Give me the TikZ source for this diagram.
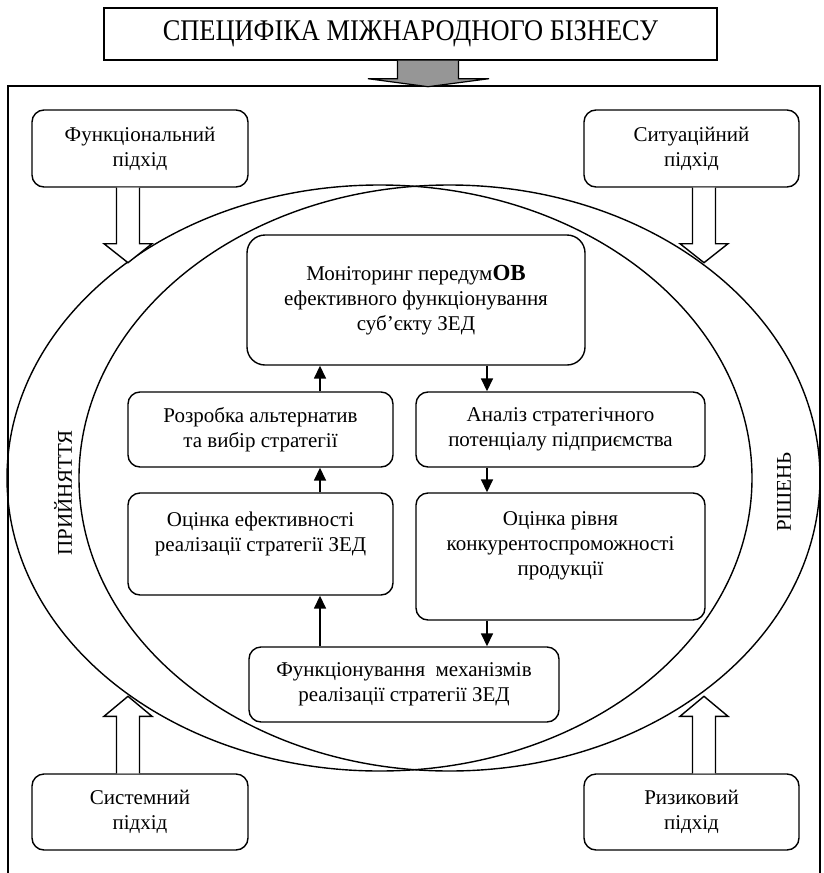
\documentclass[tikz,border=0pt]{standalone}
\usepackage{fontspec}
\setmainfont{Liberation Serif}
\newfontfamily\headfont{Liberation Serif}[FakeStretch=0.88]
\usetikzlibrary{arrows.meta,calc}
\definecolor{arrowgray}{RGB}{150,150,150}
\begin{document}
\begin{tikzpicture}[x=1pt,y=-1pt,
  every node/.style={font=\fontsize{21}{25}\selectfont},
  thick line/.style={line width=1.4pt},
  box/.style={draw, thick line, rounded corners=12pt, align=center, inner sep=0pt},
  blockarr/.style={draw, thick line, fill=white, line join=miter},
  conn/.style={line width=1.6pt, -{Triangle[length=13pt,width=12pt]}},
  pics/downarrow/.style={code={
    \draw[blockarr] (-11.5,0) -- (-11.5,56) -- (-24,56) -- (0,75) -- (24,56) -- (11.5,56) -- (11.5,0);}},
  pics/uparrow/.style={code={
    \draw[blockarr] (-11.5,0) -- (-11.5,-57) -- (-24,-57) -- (0,-77) -- (24,-57) -- (11.5,-57) -- (11.5,0);}},
  pics/grayarrow/.style={code={
    \draw[line width=1.2pt, fill=arrowgray, line join=miter] (-30.5,0) -- (-30.5,18) -- (-60,18) -- (0,26) -- (61,18) -- (30.5,18) -- (30.5,0);}}
]
\useasboundingbox (0,0) rectangle (824,873);

% outer frame, open at the bottom
\draw[thick line] (8,873) -- (8,86) -- (820,86) -- (820,873);

% the two overlapping ovals
\draw[thick line] (379.5,478) ellipse [x radius=372.5, y radius=293];
\draw[thick line] (449.5,478) ellipse [x radius=370.5, y radius=293];

% heading
\node[draw, thick line, minimum width=613, minimum height=52, inner sep=0pt,
      font=\headfont\fontsize{30}{32}\selectfont] (title) at (410.5,34) {СПЕЦИФІКА МІЖНАРОДНОГО БІЗНЕСУ};
\coordinate (gx) at (428,0);
\pic at (title.south -| gx) {grayarrow};

% approaches in the corners
\node[box, minimum width=216, minimum height=77] (func) at (140,148.5) {Функціональний\\підхід};
\node[box, minimum width=215, minimum height=77] (situ) at (691.5,148.5) {Ситуаційний\\підхід};
\node[box, minimum width=216, minimum height=76] (syst) at (140,812) {Системний\\підхід};
\node[box, minimum width=215, minimum height=76] (risk) at (691.5,812) {Ризиковий\\підхід};

\coordinate (lx) at (128,0);
\coordinate (rx) at (704,0);
\pic at (func.south -| lx) {downarrow};
\pic at (situ.south -| rx) {downarrow};
\pic at (syst.north -| lx) {uparrow};
\pic at (risk.north -| rx) {uparrow};

% side labels
\node[rotate=90] (accept) at (63,493) {ПРИЙНЯТТЯ};
\node[rotate=90] (decis) at (784,492) {РІШЕНЬ};

% cycle of stages
\node[box, rounded corners=18pt, minimum width=338, minimum height=130] (monitor) at (416,300)
  {Моніторинг передум\textbf{\fontsize{23}{25}\selectfont ОВ}\\ефективного функціонування\\суб’єкту ЗЕД};
\node[box, minimum width=265, minimum height=75] (develop) at (260.5,429.5)
  {Розробка альтернатив\\та вибір стратегії};
\node[box, minimum width=289, minimum height=75] (analysis) at (560.5,429.5)
  {Аналіз стратегічного\\потенціалу підприємства};
\node[box, minimum width=265, minimum height=102] (evaluate) at (260.5,544)
  {Оцінка ефективності\\реалізації стратегії ЗЕД\\\mbox{}};
\node[box, minimum width=289, minimum height=127] (compete) at (560.5,556.5)
  {Оцінка рівня\\конкурентоспроможності\\продукції\\\mbox{}};
\node[box, minimum width=310, minimum height=75] (mechan) at (404,684.5)
  {Функціонування\ \ механізмів\\реалізації стратегії ЗЕД};

\coordinate (ax) at (320,0);
\coordinate (bx) at (487,0);
\draw[conn] (develop.north -| ax) -- (monitor.south -| ax);
\draw[conn] (monitor.south -| bx) -- (analysis.north -| bx);
\draw[conn] (analysis.south -| bx) -- (compete.north -| bx);
\draw[conn] (evaluate.north -| ax) -- (develop.south -| ax);
\draw[conn] (mechan.north -| ax) -- (evaluate.south -| ax);
\draw[conn] (compete.south -| bx) -- (mechan.north -| bx);
\end{tikzpicture}
\end{document}
